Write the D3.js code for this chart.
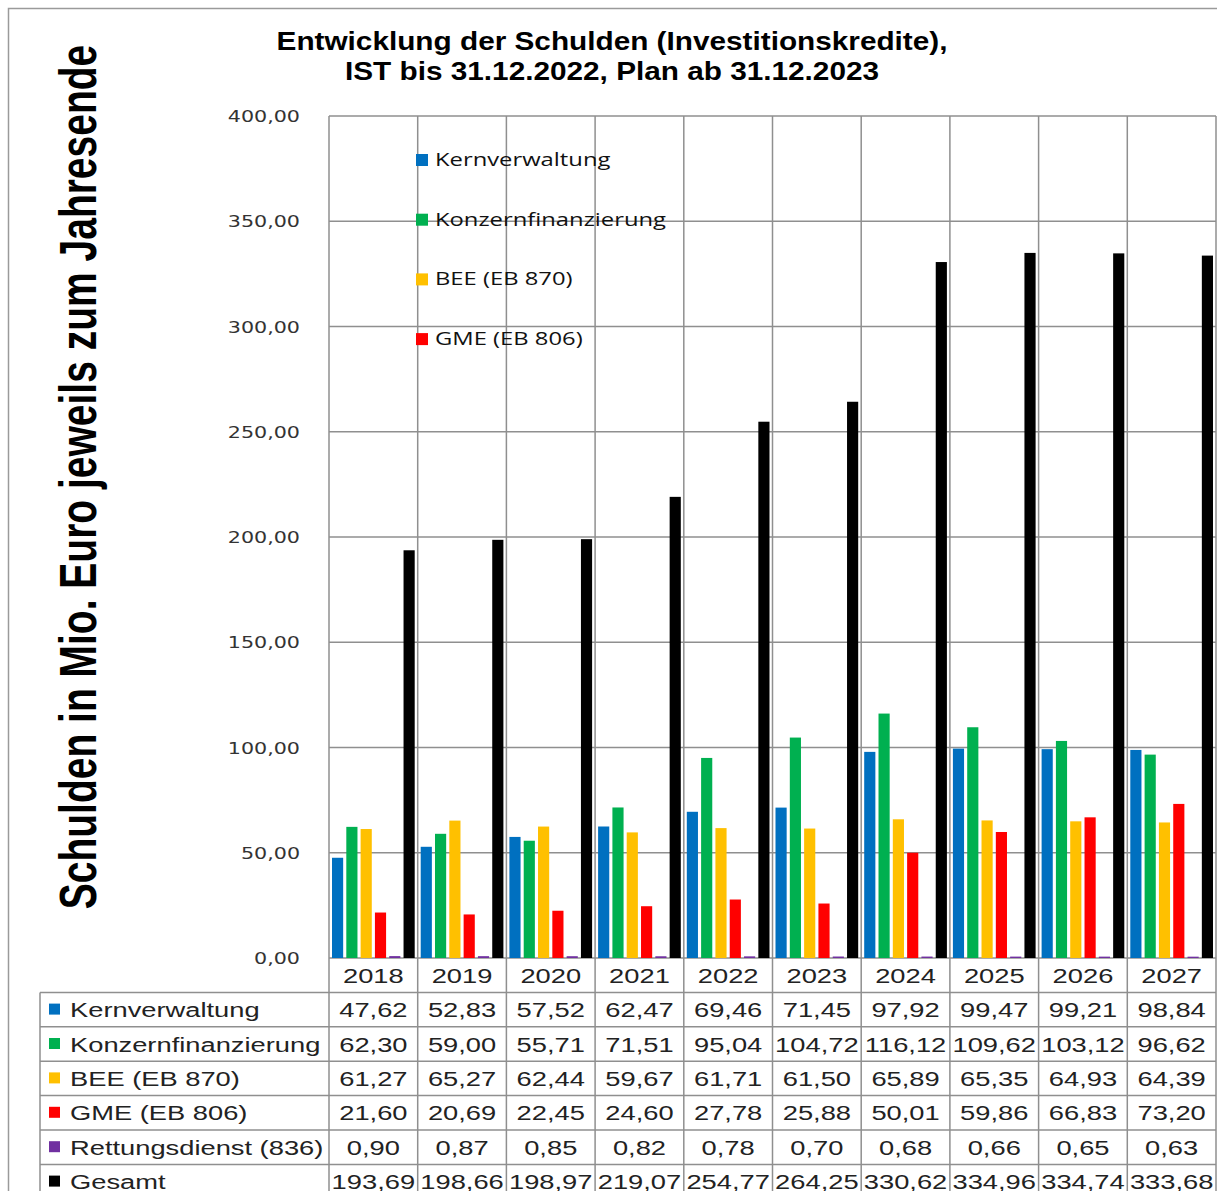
<!DOCTYPE html>
<html><head><meta charset="utf-8">
<script src="https://cdn.jsdelivr.net/npm/d3@7"></script>
<style>
html,body{margin:0;padding:0;background:#fff;}
svg{display:block;}
</style></head>
<body>
<svg id="chart" width="1217" height="1191"></svg>
<script>
const years = ["2018","2019","2020","2021","2022","2023","2024","2025","2026","2027"];
const seriesNames = ["Kernverwaltung","Konzernfinanzierung","BEE (EB 870)","GME (EB 806)","Rettungsdienst (836)","Gesamt"];
const seriesColors = ["#0070C0","#00B050","#FFC000","#FF0000","#7030A0","#000000"];
const kernverwaltung = [47.62,52.83,57.52,62.47,69.46,71.45,97.92,99.47,99.21,98.84];
const konzernfinanzierung = [62.30,59.00,55.71,71.51,95.04,104.72,116.12,109.62,103.12,96.62];
const bee = [61.27,65.27,62.44,59.67,61.71,61.50,65.89,65.35,64.93,64.39];
const gme = [21.60,20.69,22.45,24.60,27.78,25.88,50.01,59.86,66.83,73.20];
const rettungsdienst = [0.90,0.87,0.85,0.82,0.78,0.70,0.68,0.66,0.65,0.63];
const gesamt = [193.69,198.66,198.97,219.07,254.77,264.25,330.62,334.96,334.74,333.68];
const yTicks = [0,50,100,150,200,250,300,350,400];
const legendNames = ["Kernverwaltung","Konzernfinanzierung","BEE (EB 870)","GME (EB 806)"];
const titleLines = ["Entwicklung der Schulden (Investitionskredite),","IST bis 31.12.2022, Plan ab 31.12.2023"];
const yLabel = "Schulden in Mio. Euro jeweils zum Jahresende";

const seriesValues = [kernverwaltung, konzernfinanzierung, bee, gme, rettungsdienst, gesamt];

const locale = d3.formatLocale({decimal:",", thousands:".", grouping:[3], currency:["","€"]});
const fmt = locale.format(".2f");

const svg = d3.select("#chart");
const SX = 1.3;
const gridColor = "#8f8f8f";

const plotLeft = 329, plotRight = 1216, plotTop = 116, plotBottom = 958;
const tableLeft = 40, rowH = 34.4, tableTop = plotBottom + rowH; // first data row top
const tableBottom = tableTop + rowH * 6;

const x = d3.scaleBand().domain(years).range([plotLeft, plotRight]).padding(0);
const x1 = d3.scaleBand().domain(d3.range(6)).range([3, x.bandwidth() - 3]).paddingInner(0.22).paddingOuter(0);
const y = d3.scaleLinear().domain([0,400]).range([plotBottom, plotTop]);

// outer border
svg.append("rect").attr("x",8.5).attr("y",8.5).attr("width",1217).attr("height",1200)
  .attr("fill","none").attr("stroke","#9a9a9a").attr("stroke-width",1.5);

function stretched(sel, px, py, sx, extra) {
  return sel.attr("x",0).attr("y",0)
    .attr("transform", `translate(${px},${py}) scale(${sx},1)` + (extra||""));
}

// title
titleLines.forEach((t,i) => {
  stretched(svg.append("text").text(t), 612, 50 + i*30, 1.19)
    .attr("text-anchor","middle").attr("font-family","Liberation Sans, Arial, sans-serif")
    .attr("font-weight","bold").attr("font-size",25).attr("fill","#000");
});

// y label
svg.append("text").text(yLabel)
  .attr("transform", `translate(96,477) scale(1.32,1) rotate(-90)`)
  .attr("text-anchor","middle").attr("font-family","Liberation Sans, Arial, sans-serif")
  .attr("font-weight","bold").attr("font-size",39).attr("fill","#000");

// horizontal gridlines
svg.append("g").selectAll("line").data(yTicks).join("line")
  .attr("x1",plotLeft).attr("x2",plotRight)
  .attr("y1",d=>y(d)).attr("y2",d=>y(d))
  .attr("stroke",gridColor).attr("stroke-width",1.5);

// y axis tick labels via d3 axis
const yAxis = d3.axisLeft(y).tickValues(yTicks).tickFormat(fmt).tickSize(0).tickPadding(29);
const gy = svg.append("g").attr("transform",`translate(${plotLeft},0)`).call(yAxis);
gy.select(".domain").remove();
gy.selectAll(".tick text")
  .attr("font-family","DejaVu Sans, Verdana, sans-serif").attr("font-size",16).attr("fill","#333")
  .attr("dy","0.35em")
  .each(function(){
    const t = d3.select(this);
    t.attr("transform", `translate(-29,0) scale(1.29,1)`).attr("x",0);
  });

// vertical gridlines (category boundaries), running through table
const bounds = years.map(d=>x(d)).concat([plotRight]);
svg.append("g").selectAll("line").data(bounds).join("line")
  .attr("x1",d=>d).attr("x2",d=>d).attr("y1",plotTop).attr("y2",tableBottom)
  .attr("stroke",gridColor).attr("stroke-width",1.5);

// table horizontal lines
const rowLines = d3.range(7).map(i => tableTop + i*rowH);
svg.append("g").selectAll("line").data(rowLines).join("line")
  .attr("x1",tableLeft).attr("x2",plotRight).attr("y1",d=>d).attr("y2",d=>d)
  .attr("stroke",gridColor).attr("stroke-width",1.5);
svg.append("line").attr("x1",tableLeft).attr("x2",tableLeft).attr("y1",tableTop).attr("y2",tableBottom)
  .attr("stroke",gridColor).attr("stroke-width",1.5);

// bars
const barG = svg.append("g");
seriesValues.forEach((vals, si) => {
  barG.append("g").selectAll("rect").data(vals).join("rect")
    .attr("x",(d,i)=>x(years[i]) + x1(si))
    .attr("width",x1.bandwidth())
    .attr("y",d=>y(d))
    .attr("height",d=>y(0)-y(d))
    .attr("fill",seriesColors[si]);
});

// legend inside plot
legendNames.forEach((n,i) => {
  const cy = 160 + i*59.7;
  svg.append("rect").attr("x",416).attr("y",cy-6).attr("width",12).attr("height",12).attr("fill",seriesColors[i]);
  stretched(svg.append("text").text(n), 435, cy+6, 1.36)
    .attr("font-family","Open Sans, sans-serif").attr("font-size",17.5).attr("fill","#111");
});

// year header row
years.forEach(yr => {
  stretched(svg.append("text").text(yr), x(yr)+x.bandwidth()/2, plotBottom + rowH/2 + 7.5, SX)
    .attr("text-anchor","middle").attr("font-family","Liberation Sans, Arial, sans-serif")
    .attr("font-size",21).attr("fill","#222");
});

// table rows
seriesNames.forEach((n,si) => {
  const cy = tableTop + si*rowH + rowH/2;
  svg.append("rect").attr("x",49).attr("y",cy-6).attr("width",11).attr("height",11).attr("fill",seriesColors[si]);
  stretched(svg.append("text").text(n), 70, cy+7.5, SX)
    .attr("font-family","Liberation Sans, Arial, sans-serif").attr("font-size",21).attr("fill","#222");
  seriesValues[si].forEach((v,i) => {
    stretched(svg.append("text").text(fmt(v)), x(years[i])+x.bandwidth()/2, cy+7.5, SX)
      .attr("text-anchor","middle").attr("font-family","Liberation Sans, Arial, sans-serif")
      .attr("font-size",21).attr("fill","#222");
  });
});
</script>
</body></html>
